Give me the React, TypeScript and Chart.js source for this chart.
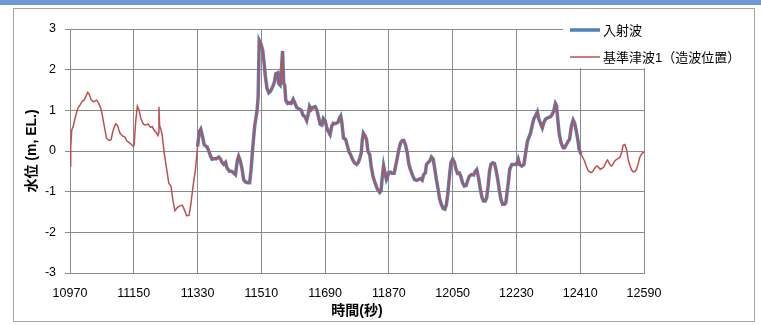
import React, { useEffect, useRef } from 'react';
import { Chart, registerables } from 'chart.js';

Chart.register(...registerables);

// ---- Axes ----
const X_MIN = 10970;
const X_MAX = 12590;
const X_STEP = 180;
const Y_MIN = -3;
const Y_MAX = 3;
const Y_STEP = 1;

const X_TITLE = '時間(秒)';
const Y_TITLE = '水位 (m, EL.)';
const SERIES_NAMES = ['入射波', '基準津波1（造波位置）'];
const SERIES_COLORS = ['#4f81bd', '#c0504d'];

// incident wave is plotted only over this time window
const INCIDENT_START = 11330;
const INCIDENT_END = 12412;

// [time (s), water level (m)] for 基準津波1（造波位置）
const tsunamiSeries: [number, number][] = [
  [10970, -0.37], [10972, 0.1], [10975, 0.52], [10979, 0.6], [10984, 0.8], [10992, 1.05],
  [10998, 1.13], [11005, 1.23], [11010, 1.25], [11014, 1.33], [11020, 1.44], [11024, 1.4],
  [11029, 1.27], [11036, 1.21], [11045, 1.25], [11050, 1.19], [11057, 1.05], [11061, 0.89],
  [11067, 0.6], [11073, 0.32], [11080, 0.26], [11086, 0.28], [11092, 0.52], [11099, 0.67],
  [11104, 0.63], [11111, 0.44], [11118, 0.37], [11125, 0.34], [11130, 0.25], [11136, 0.21],
  [11142, 0.17], [11149, 0.11], [11151, 0.15], [11155, 0.68], [11160, 1.1], [11165, 1.0],
  [11170, 0.8], [11177, 0.66], [11183, 0.64], [11191, 0.66], [11197, 0.58], [11202, 0.6],
  [11208, 0.5], [11213, 0.46], [11218, 0.38], [11220, 0.45], [11221, 1.09], [11223, 0.62],
  [11226, 0.55], [11230, 0.4], [11236, -0.05], [11243, -0.46], [11249, -0.8], [11255, -0.86],
  [11260, -1.19], [11266, -1.47], [11273, -1.39], [11280, -1.35], [11287, -1.33], [11292, -1.43],
  [11299, -1.59], [11306, -1.58], [11311, -1.31], [11318, -0.82], [11324, -0.46], [11330, 0.11],
  [11335, 0.48], [11339, 0.54], [11344, 0.36], [11349, 0.15], [11353, 0.12], [11357, 0.1],
  [11362, -0.01], [11367, -0.13], [11371, -0.2], [11376, -0.19], [11383, -0.19], [11390, -0.15],
  [11395, -0.2], [11399, -0.28], [11404, -0.33], [11409, -0.28], [11413, -0.41], [11420, -0.5],
  [11426, -0.5], [11432, -0.54], [11437, -0.58], [11442, -0.25], [11446, -0.13], [11451, -0.25],
  [11456, -0.46], [11460, -0.7], [11465, -0.76], [11472, -0.78], [11477, -0.78], [11481, -0.46],
  [11486, 0.11], [11491, 0.6], [11498, 1.0], [11501, 1.33], [11504, 2.72], [11509, 2.63],
  [11514, 2.47], [11518, 2.15], [11521, 1.86], [11526, 1.54], [11531, 1.43], [11536, 1.47],
  [11542, 1.58], [11547, 1.7], [11551, 1.9], [11556, 1.92], [11559, 1.66], [11563, 1.62],
  [11566, 1.9], [11570, 2.46], [11573, 1.66], [11576, 1.62], [11579, 1.25], [11584, 1.17],
  [11589, 1.19], [11594, 1.17], [11600, 1.27], [11606, 1.15], [11610, 1.07], [11617, 1.03],
  [11623, 1.0], [11627, 0.89], [11634, 0.83], [11638, 0.75], [11643, 0.93], [11646, 1.1],
  [11651, 1.02], [11655, 1.07], [11662, 1.09], [11667, 1.0], [11671, 0.85], [11676, 0.66],
  [11681, 0.64], [11685, 0.8], [11690, 0.75], [11695, 0.56], [11699, 0.48], [11704, 0.4],
  [11709, 0.62], [11713, 0.68], [11718, 0.67], [11726, 0.7], [11730, 0.8], [11734, 0.86],
  [11737, 0.72], [11742, 0.32], [11748, 0.28], [11753, 0.12], [11758, -0.03], [11762, -0.09],
  [11767, -0.2], [11773, -0.29], [11779, -0.33], [11784, -0.28], [11788, -0.17], [11792, -0.05],
  [11795, 0.28], [11798, 0.44], [11803, 0.37], [11807, 0.28], [11811, -0.01], [11816, -0.09],
  [11820, -0.37], [11825, -0.62], [11831, -0.78], [11837, -0.93], [11844, -1.02], [11848, -0.98],
  [11851, -0.66], [11855, -0.36], [11859, -0.54], [11863, -0.7], [11866, -0.64], [11870, -0.52],
  [11875, -0.52], [11879, -0.55], [11885, -0.55], [11889, -0.37], [11893, -0.2], [11898, 0.03],
  [11903, 0.2], [11908, 0.26], [11912, 0.26], [11917, 0.15], [11922, -0.05], [11926, -0.31],
  [11931, -0.46], [11936, -0.58], [11942, -0.7], [11948, -0.72], [11954, -0.7], [11959, -0.68],
  [11964, -0.72], [11968, -0.58], [11973, -0.54], [11976, -0.33], [11981, -0.28], [11985, -0.25],
  [11990, -0.15], [11995, -0.2], [11999, -0.41], [12004, -0.7], [12009, -0.94], [12013, -1.17],
  [12018, -1.31], [12023, -1.41], [12028, -1.43], [12032, -1.33], [12036, -1.07], [12041, -0.62],
  [12045, -0.29], [12050, -0.2], [12055, -0.28], [12059, -0.44], [12064, -0.55], [12069, -0.54],
  [12073, -0.62], [12078, -0.78], [12083, -0.86], [12088, -0.85], [12092, -0.74], [12097, -0.62],
  [12103, -0.58], [12109, -0.59], [12114, -0.5], [12118, -0.46], [12123, -0.66], [12128, -0.94],
  [12133, -1.15], [12137, -1.23], [12142, -1.23], [12146, -1.15], [12150, -0.86], [12154, -0.5],
  [12158, -0.33], [12163, -0.29], [12168, -0.31], [12172, -0.45], [12177, -0.69], [12182, -0.98],
  [12186, -1.18], [12191, -1.31], [12196, -1.31], [12200, -1.27], [12203, -1.06], [12207, -0.78],
  [12211, -0.45], [12217, -0.33], [12224, -0.33], [12230, -0.33], [12235, -0.2], [12239, -0.33],
  [12245, -0.37], [12251, -0.33], [12256, -0.04], [12261, 0.24], [12265, 0.33], [12270, 0.45],
  [12275, 0.65], [12279, 0.79], [12284, 0.87], [12289, 0.96], [12293, 0.79], [12298, 0.68],
  [12303, 0.57], [12307, 0.69], [12312, 0.78], [12319, 0.82], [12326, 0.84], [12331, 0.9],
  [12335, 0.98], [12340, 1.17], [12343, 1.12], [12348, 0.65], [12351, 0.41], [12356, 0.2],
  [12362, 0.08], [12366, 0.08], [12371, 0.16], [12376, 0.24], [12380, 0.29], [12385, 0.61],
  [12390, 0.76], [12394, 0.69], [12398, 0.53], [12403, 0.29], [12407, 0.04], [12412, -0.08],
  [12417, -0.16], [12422, -0.24], [12427, -0.37], [12433, -0.49], [12441, -0.53], [12445, -0.51],
  [12450, -0.43], [12457, -0.37], [12461, -0.39], [12466, -0.45], [12471, -0.43], [12477, -0.39],
  [12482, -0.29], [12487, -0.22], [12491, -0.29], [12497, -0.37], [12501, -0.35], [12508, -0.24],
  [12514, -0.2], [12522, -0.16], [12527, -0.04], [12531, 0.14], [12536, 0.16], [12541, 0.04],
  [12545, -0.2], [12550, -0.35], [12555, -0.47], [12559, -0.51], [12564, -0.51], [12569, -0.45],
  [12573, -0.33], [12578, -0.16], [12583, -0.08], [12587, -0.04], [12590, -0.04],
];

// 入射波 coincides with the tsunami trace within its window
const incidentSeries = tsunamiSeries.filter(([t]) => t >= INCIDENT_START && t <= INCIDENT_END);

const FONT = "'Liberation Sans', 'Noto Sans CJK JP', sans-serif";
const GRID = '#8a8a8a';

const framePlugin = {
  id: 'excelFrame',
  beforeDraw(chart: any) {
    const ctx = chart.ctx;
    ctx.save();
    ctx.fillStyle = '#ffffff';
    ctx.fillRect(0, 0, chart.width, chart.height);
    ctx.fillStyle = '#6c9bd3';
    ctx.fillRect(0, 0, chart.width, 5);
    ctx.strokeStyle = '#a6a6a6';
    ctx.lineWidth = 1;
    ctx.strokeRect(13.5, 8.5, 741, 313);
    ctx.restore();
  },
};

const legendPlugin = {
  id: 'boxLegend',
  afterDraw(chart: any) {
    const ctx = chart.ctx;
    const area = chart.chartArea;
    const boxLeft = area.right - 81;
    ctx.save();
    ctx.fillStyle = '#ffffff';
    ctx.fillRect(boxLeft, area.top - 14, 190, 53);
    const widths = [3.5, 1.5];
    const rows = [area.top + 1, area.top + 28];
    chart.data.datasets.forEach((ds: any, i: number) => {
      const y = rows[i];
      ctx.strokeStyle = ds.borderColor;
      ctx.lineWidth = widths[i];
      ctx.beginPath();
      ctx.moveTo(boxLeft + 7, y);
      ctx.lineTo(boxLeft + 37, y);
      ctx.stroke();
      ctx.fillStyle = '#000000';
      ctx.font = `13px ${FONT}`;
      ctx.textBaseline = 'middle';
      ctx.textAlign = 'left';
      ctx.fillText(ds.label, boxLeft + 40, y + 1);
    });
    ctx.restore();
  },
};

export default function App() {
  const canvasRef = useRef<HTMLCanvasElement | null>(null);

  useEffect(() => {
    if (!canvasRef.current) return;
    const chart = new Chart(canvasRef.current, {
      type: 'line',
      data: {
        datasets: [
          {
            label: SERIES_NAMES[0],
            data: incidentSeries.map(([x, y]) => ({ x, y })),
            borderColor: SERIES_COLORS[0],
            backgroundColor: SERIES_COLORS[0],
            borderWidth: 3.5,
            pointRadius: 0,
            tension: 0,
            order: 1,
          },
          {
            label: SERIES_NAMES[1],
            data: tsunamiSeries.map(([x, y]) => ({ x, y })),
            borderColor: SERIES_COLORS[1],
            backgroundColor: SERIES_COLORS[1],
            borderWidth: 1.5,
            pointRadius: 0,
            tension: 0,
            order: 0,
          },
        ],
      },
      options: {
        responsive: false,
        animation: false,
        devicePixelRatio: 1,
        layout: { padding: { left: 20, top: 29, right: 117, bottom: 5 } },
        plugins: {
          legend: { display: false },
          tooltip: { enabled: false },
        },
        scales: {
          x: {
            type: 'linear',
            min: X_MIN,
            max: X_MAX,
            afterFit: (scale: any) => { scale.height = 47; },
            ticks: {
              stepSize: X_STEP,
              autoSkip: false,
              maxRotation: 0,
              padding: 13,
              color: '#000000',
              font: { family: FONT, size: 12.5 },
              callback: (v: any) => String(v),
            },
            grid: { color: GRID, lineWidth: 1, drawTicks: false },
            border: { color: GRID, width: 1 },
            title: {
              display: true,
              text: X_TITLE,
              color: '#000000',
              font: { family: FONT, size: 14, weight: 'bold' },
              padding: { top: 0, bottom: 0 },
            },
          },
          y: {
            min: Y_MIN,
            max: Y_MAX,
            afterFit: (scale: any) => { scale.width = 50; },
            ticks: {
              stepSize: Y_STEP,
              padding: 9,
              color: '#000000',
              font: { family: FONT, size: 12.5 },
            },
            grid: { color: GRID, lineWidth: 1, tickLength: 5 },
            border: { color: GRID, width: 1 },
            title: {
              display: true,
              text: Y_TITLE,
              color: '#000000',
              font: { family: FONT, size: 14, weight: 'bold' },
              padding: { top: 4, bottom: 0 },
            },
          },
        },
      },
      plugins: [framePlugin, legendPlugin],
    } as any);
    return () => chart.destroy();
  }, []);

  return (
    <div style={{ position: 'absolute', left: 0, top: 0, width: 761, height: 325 }}>
      <canvas ref={canvasRef} width={761} height={325} style={{ display: 'block', width: 761, height: 325 }} />
    </div>
  );
}
